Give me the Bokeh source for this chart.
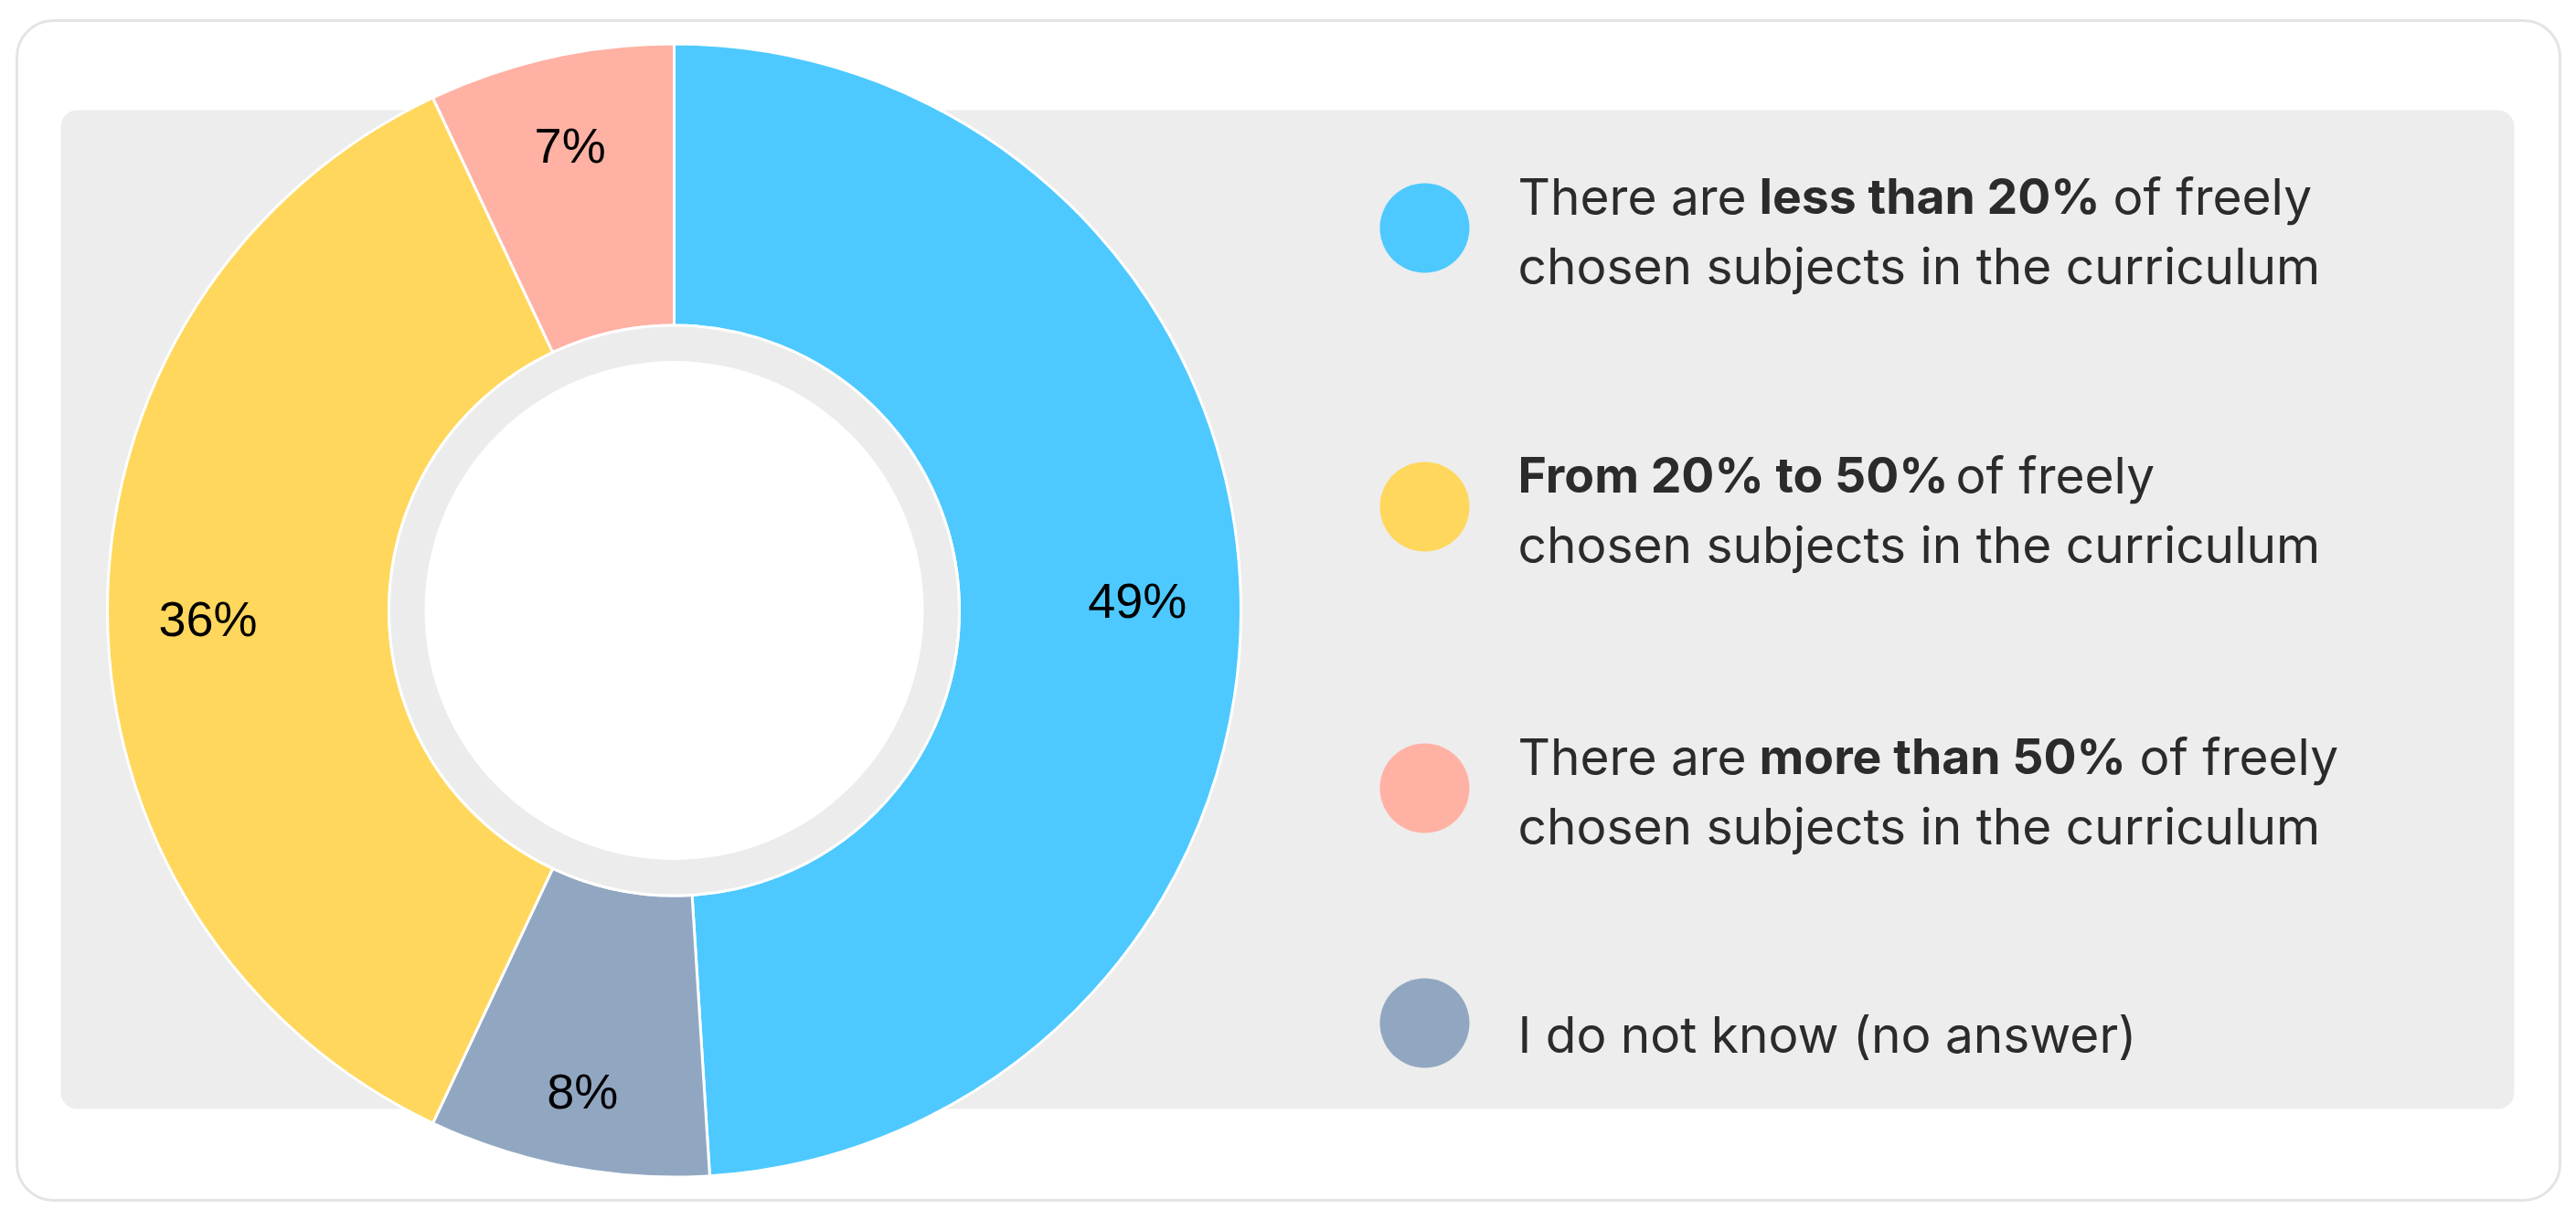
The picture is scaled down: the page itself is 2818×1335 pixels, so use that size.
import math
from bokeh.plotting import figure
from bokeh.models import Range1d, ColumnDataSource
from bokeh.core.properties import value
from bokeh.embed import file_html
from bokeh.resources import INLINE

# ---------------- data ----------------
categories = [
    "There are less than 20% of freely chosen subjects in the curriculum",
    "From 20% to 50% of freely chosen subjects in the curriculum",
    "There are more than 50% of freely chosen subjects in the curriculum",
    "I do not know (no answer)",
]
values = [49, 36, 7, 8]
colors = ["#4DC9FF", "#FFD75C", "#FFB1A4", "#91A7C1"]
# clockwise order of the slices, starting at 12 o'clock
donut_order = [0, 3, 1, 2]
# legend label lines, each a list of (text, bold) pieces
legend_lines = [
    [[("There are", False), ("less than 20%", True), ("of freely", False)],
     [("chosen subjects in the curriculum", False)]],
    [[("From 20% to 50%", True), ("of freely", False)],
     [("chosen subjects in the curriculum", False)]],
    [[("There are", False), ("more than 50%", True), ("of freely", False)],
     [("chosen subjects in the curriculum", False)]],
    [[("I do not know (no answer)", False)]],
]

# ---------------- layout (pixel space, y measured downward from page top) ----------------
W, H = 2802, 1319
PAGE_H = 1335
def Y(v):
    return PAGE_H - v

CX, CY = 737, 667.5
R_OUT, R_IN, R_HOLE = 620, 312, 273
# label distance from the centre and small downward nudge, per slice in clockwise order
LABEL_R = [507, 535, 510, 522]
LABEL_DY = [5, 0, 9, 0]
LEG_X_DOT = 1558
LEG_X_TEXT = 1660
LEG_DOT_R = 49
LEG_CENTERS = [249, 554, 862, 1119]
LINE_H = 76
FIRST_BASE_2 = -35   # first baseline of a two-line entry, relative to its dot centre
FIRST_BASE_1 = 12    # baseline of a one-line entry
# horizontal start of each text piece, relative to LEG_X_TEXT
PIECE_OFFSETS = [[[0, 264, 651], [0]], [[0, 479], [0]], [[0, 264, 680], [0]], [[0]]]
NORMAL_SIZE, BOLD_SIZE = "55px", "53.5px"

p = figure(width=W, height=H, x_range=Range1d(0, W), y_range=Range1d(PAGE_H - H, PAGE_H),
           output_backend="svg", toolbar_location=None, min_border=0)
p.axis.visible = False
p.xgrid.visible = False
p.ygrid.visible = False
p.outline_line_color = None
p.background_fill_color = "white"
p.border_fill_color = "white"

# outer card
p.quad(left=[18], right=[2800], top=[Y(22)], bottom=[Y(1313)], fill_color="white",
       line_color="#E4E4E4", line_width=3, border_radius=40)
# grey panel
p.quad(left=[66], right=[2750], top=[Y(120)], bottom=[Y(1213)], fill_color="#EDEDED",
       line_color=None, border_radius=18)

# ---------------- donut ----------------
total = float(sum(values))
starts, ends, fills, lx, ly, ltxt = [], [], [], [], [], []
cum = 0.0
for n, i in enumerate(donut_order):
    frac0 = cum / total
    cum += values[i]
    frac1 = cum / total
    a0 = math.pi / 2 - 2 * math.pi * frac0
    a1 = math.pi / 2 - 2 * math.pi * frac1
    starts.append(a0)
    ends.append(a1)
    fills.append(colors[i])
    mid = (a0 + a1) / 2
    lx.append(CX + LABEL_R[n] * math.cos(mid))
    ly.append(Y(CY) + LABEL_R[n] * math.sin(mid) - LABEL_DY[n])
    ltxt.append(f"{values[i]}%")

src = ColumnDataSource(dict(start=starts, end=ends, fill=fills))
p.annular_wedge(x=CX, y=Y(CY), inner_radius=R_IN, outer_radius=R_OUT,
                start_angle="start", end_angle="end", direction="clock",
                fill_color="fill", line_color="white", line_width=3, source=src)
p.circle(x=[CX], y=[Y(CY)], radius=R_IN, fill_color="#ECECEC", line_color="white", line_width=3)
p.circle(x=[CX], y=[Y(CY)], radius=R_HOLE, fill_color="white", line_color=None)

p.text(x=lx, y=ly, text=ltxt, text_font=value("Liberation Sans"), text_font_size="54px",
       text_color="black", text_align="center", text_baseline="middle")

# ---------------- legend ----------------
p.circle(x=[LEG_X_DOT] * len(categories), y=[Y(c) for c in LEG_CENTERS], radius=LEG_DOT_R,
         fill_color=colors, line_color=None)

for k, lines in enumerate(legend_lines):
    c = LEG_CENTERS[k]
    if len(lines) == 1:
        baselines = [c + FIRST_BASE_1]
    else:
        baselines = [c + FIRST_BASE_2, c + FIRST_BASE_2 + LINE_H]
    for li, line in enumerate(lines):
        for pi, (txt, bold) in enumerate(line):
            p.text(x=[LEG_X_TEXT + PIECE_OFFSETS[k][li][pi]], y=[Y(baselines[li])], text=[txt],
                   text_font=value("Inter"),
                   text_font_size=BOLD_SIZE if bold else NORMAL_SIZE,
                   text_font_style="bold" if bold else "normal",
                   text_color="#2B2B2B", text_align="left", text_baseline="alphabetic")

open("out.html", "w").write(file_html(p, INLINE))
